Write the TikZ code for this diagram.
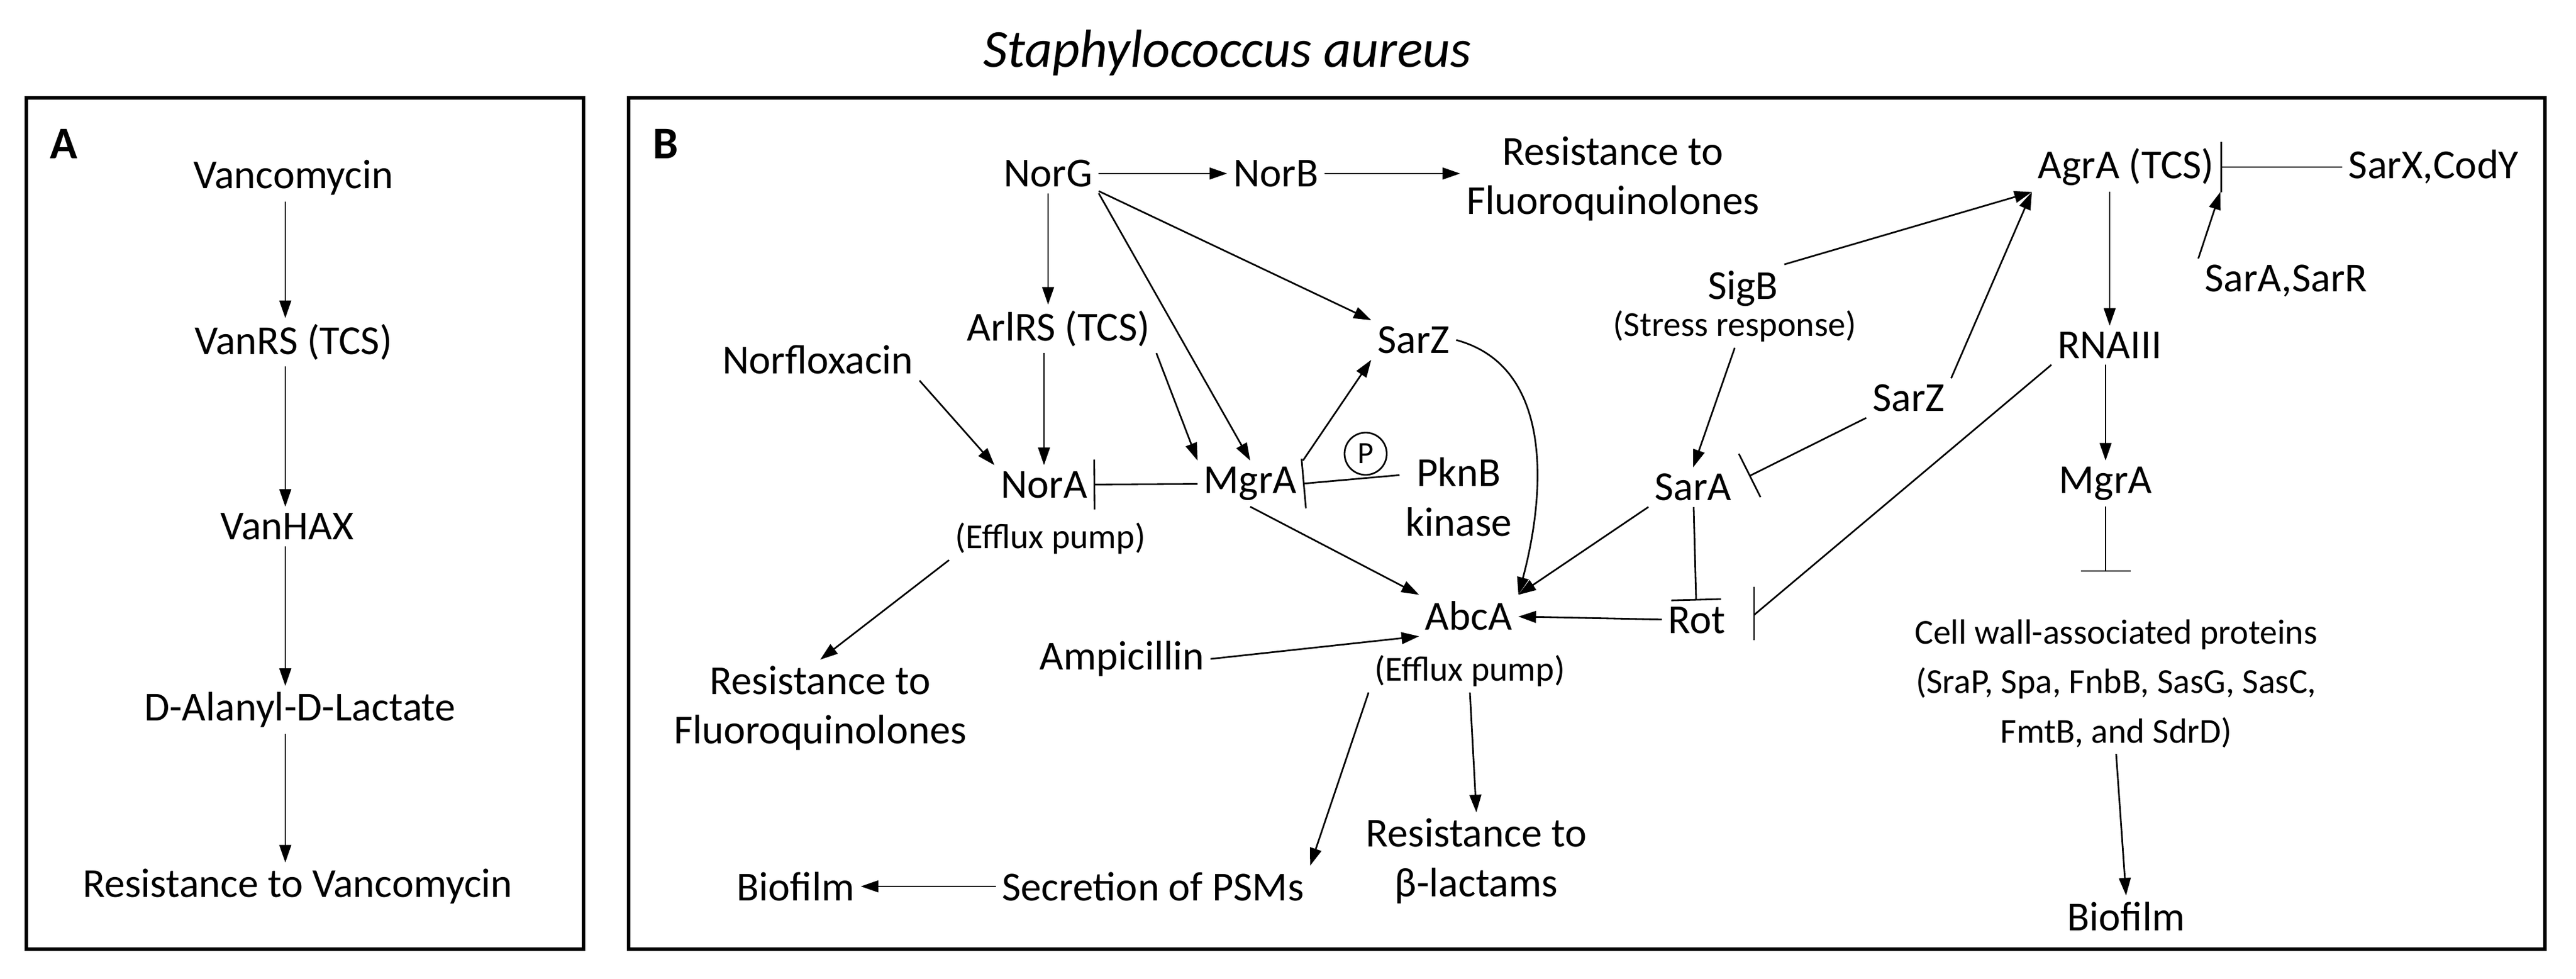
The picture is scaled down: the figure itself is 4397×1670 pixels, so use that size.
\documentclass[tikz,border=0pt]{standalone}
\usepackage{fontspec}
\setmainfont{Carlito}
\usetikzlibrary{arrows.meta}
\begin{document}
\begin{tikzpicture}[x=0.01cm,y=-0.01cm,
  t/.style={inner sep=0.1cm,font=\fontsize{20}{24}\selectfont,align=center},
  s/.style={inner sep=0.1cm,font=\fontsize{17}{24}\selectfont,align=center},
  arr/.style={line width=0.8pt,-{Triangle[length=0.3cm,width=0.2cm]}},
  inh/.style={line width=0.8pt,-{Bar[width=0.85cm]}},
  ln/.style={line width=0.8pt},
  box/.style={line width=1.5pt}]
\useasboundingbox (0,0) rectangle (4397,1670);
\draw[box] (45,167) rectangle (996,1619);
\draw[box] (1073,167) rectangle (4344,1619);
\node[font=\fontsize{26}{30}\selectfont\itshape] (title) at (2095,90) {Staphylococcus aureus};
% Panel A
\node[font=\fontsize{22}{26}\selectfont\bfseries] (labA) at (109,245) {A};
\node[t] (van) at (501,303) {Vancomycin};
\node[t] (vanrs) at (501,584) {VanRS (TCS)};
\node[t] (vanhax) at (490,898) {VanHAX};
\node[t] (dala) at (512,1211) {D-Alanyl-D-Lactate};
\node[t] (resvan) at (508,1512) {Resistance to Vancomycin};
\draw[arr] (van.south -| 487,0) -- (vanrs.north -| 487,0);
\draw[arr] (vanrs.south -| 487,0) -- (vanhax.north -| 487,0);
\draw[arr] (vanhax.south -| 487,0) -- (dala.north -| 487,0);
\draw[arr] (dala.south -| 487,0) -- (resvan.north -| 487,0);
% Panel B
\node[font=\fontsize{22}{26}\selectfont\bfseries] (labB) at (1136,245) {B};
\node[t] (norg) at (1789,296) {NorG};
\node[t] (norb) at (2178,296) {NorB};
\node[t] (resfq1) at (2753,305) {Resistance to\\Fluoroquinolones};
\node[t] (arlrs) at (1807,561) {ArlRS (TCS)};
\node[t] (norflox) at (1396,614) {Norfloxacin};
\node[t] (nora) at (1782,827) {NorA};
\node[s] (noraef) at (1793,918) {(Efflux pump)};
\node[t] (mgra) at (2134,825) {MgrA};
\node[circle,draw,line width=0.8pt,inner sep=0pt,minimum size=0.72cm,font=\fontsize{15}{18}\selectfont] (p) at (2331,774) {P};
\node[t] (pknb) at (2490,848) {PknB\\kinase};
\node[t] (sarz1) at (2413,580) {SarZ};
\node[t] (abca) at (2507,1050) {AbcA};
\node[s] (abcaef) at (2509,1144) {(Efflux pump)};
\node[t] (ampi) at (1915,1124) {Ampicillin};
\node[t] (resfq2) at (1400,1208) {Resistance to\\Fluoroquinolones};
\node[t] (bio1) at (1358,1512) {Biofilm};
\node[t] (psm) at (1968,1512) {Secretion of PSMs};
\node[t] (resbl) at (2520,1469) {Resistance to\\β-lactams};
\node[t] (sigb) at (2975,492) {SigB};
\node[s] (stress) at (2961,556) {(Stress response)};
\node[t] (sarz2) at (3258,679) {SarZ};
\node[t] (sara) at (2890,831) {SarA};
\node[t] (rot) at (2896,1058) {Rot};
\node[t] (agra) at (3629,285) {AgrA (TCS)};
\node[t] (sarx) at (4154,285) {SarX,CodY};
\node[t] (sarar) at (3902,479) {SarA,SarR};
\node[t] (rna) at (3601,589) {RNAIII};
\node[t] (mgra2) at (3594,825) {MgrA};
\node[s] (cell) at (3612,1166) {Cell wall-associated proteins\\(SraP, Spa, FnbB, SasG, SasC,\\FmtB, and SdrD)};
\node[t] (bio2) at (3629,1563) {Biofilm};
% connectors
\draw[arr] (norg) -- (norb);
\draw[arr] (norb) -- (resfq1.west |- norb);
\draw[arr] (norg.south) -- (arlrs.north -| norg.south);
\draw[arr] (norg.south east) -- (mgra.north);
\draw[arr] (norg.east) ++(0,30) -- (sarz1.north west);
\draw[arr] (arlrs.south -| nora.north) -- (nora.north);
\draw[arr] (arlrs.south east) -- (mgra.north west);
\draw[arr] (norflox.south east) -- (nora.north west);
\draw[inh] (mgra) -- (nora);
\draw[inh] (pknb.north west) ++(0,40) -- (mgra.east);
\draw[arr] (mgra.north east) -- (sarz1.south west);
\draw[arr] (noraef.south west) -- (resfq2.north);
\draw[arr] (mgra.south) -- (abca.north west);
\draw[arr] (ampi.east) -- (abca.south west);
\draw[arr] (sarz1.east) to[out=-15,in=75] (abca.north east);
\draw[arr] (abcaef.south west) -- (psm.north east);
\draw[arr] (abcaef.south) -- (resbl.north);
\draw[arr] (psm) -- (bio1);
\draw[arr] (sara.south west) -- (abca.north east);
\draw[arr] (rot) -- (abca);
\draw[inh] (sara) -- (rot);
\draw[arr] (stress.south) -- (sara.north);
\draw[arr] (sigb.north east) -- (agra.south west);
\draw[arr] (sarz2.north east) -- (agra.south west);
\draw[inh] (sarx) -- (agra);
\draw[arr] (sarar.north west) -- (agra.south east);
\draw[arr] (agra.south -| rna.north) -- (rna.north);
\draw[arr] (rna.south -| mgra2.north) -- (mgra2.north);
\draw[inh] (mgra2.south) -- ++(0,111);
\draw[arr] (cell.south) -- (bio2.north);
\coordinate (b1) at (2986,812);
\draw[ln] (sarz2.south west) -- (b1);
\draw[ln] (2968,774) -- (3005,848);
\coordinate (b2) at (2994,1049);
\draw[ln] (rna.south west) -- (b2);
\draw[ln] (2994,1001) -- (2994,1092);
\end{tikzpicture}
\end{document}
